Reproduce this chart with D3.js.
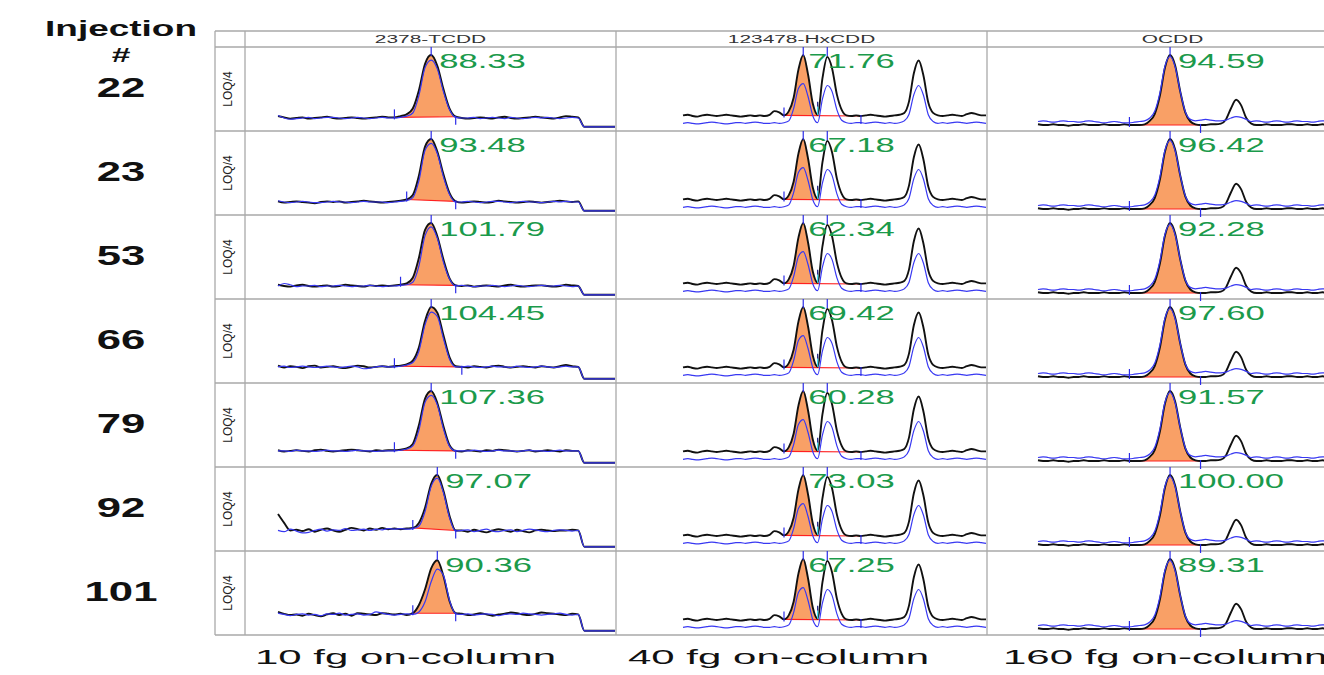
<!DOCTYPE html>
<html>
<head>
<meta charset="utf-8">
<script src="https://cdn.jsdelivr.net/npm/d3@7"></script>
<style>
  html, body { margin: 0; padding: 0; background: #fff; }
  svg { display: block; font-family: "Liberation Sans", Arial, sans-serif; }
</style>
</head>
<body>
<div id="chart"></div>
<script>
// ---- data ----
const injections = ['22', '23', '53', '66', '79', '92', '101'];
const compounds = ['2378-TCDD', '123478-HxCDD', 'OCDD'];
const amounts = ['10 fg on-column', '40 fg on-column', '160 fg on-column'];
const rowTag = 'LOQ/4';

const tcddValues = ['88.33', '93.48', '101.79', '104.45', '107.36', '97.07', '90.36'];
const hxcddValues = ['71.76', '67.18', '62.34', '69.42', '60.28', '73.03', '67.25'];
const ocddValues = ['94.59', '96.42', '92.28', '97.60', '91.57', '100.00', '89.31'];

// 2378-TCDD, one trace per injection (56 scans, % of peak)
const tcddBlack = [
  [3, 1, -1, 0, 1, -1, 0, 1, 2, 0, -1, 0, 1, 0, -1, 0, 1, 2, 1,
   1, 3, 6, 15, 44, 86, 100, 83, 46, 15, 2,
   0, -1, 0, 1, 0, -1, 1, 2, 0, -1, 0, 1, 2, 1, 0, -1, 1, 3, 2, 1,
   -14, -14, -14, -14, -14, -14],
  [1, -1, 0, 1, 0, -1, -2, 0, 1, 0, 1, -1, 0, 1, 2, 1, 0, -1, 0,
   1, 2, 4, 11, 42, 88, 100, 80, 44, 14, 1,
   -1, 0, 1, 0, -1, 0, 2, 1, 0, -1, 0, 1, 0, -1, 0, 1, 2, 1, 0, 1,
   -14, -14, -14, -14, -14, -14],
  [2, 0, -1, 1, 2, 0, -1, 0, 1, -1, 0, 2, 1, 0, -1, 1, 0, 1, 0,
   1, 2, 4, 13, 45, 89, 100, 79, 42, 12, 1,
   0, 1, -1, 0, 1, 0, -1, 1, 2, 0, -1, 0, 1, 1, 0, -1, 0, 2, 1, 0,
   -14, -14, -14, -14, -14, -14],
  [7, 4, 6, 5, 3, 6, 7, 4, 5, 6, 4, 3, 5, 7, 6, 4, 5, 6, 5,
   6, 7, 9, 15, 36, 78, 100, 91, 55, 20, 6,
   5, 4, 6, 5, 4, 6, 7, 5, 4, 5, 6, 5, 4, 6, 5, 4, 6, 8, 6, 5,
   -14, -14, -14, -14, -14, -14],
  [6, 4, 5, 6, 5, 4, 6, 7, 5, 4, 5, 6, 7, 6, 5, 4, 6, 5, 6,
   6, 7, 9, 16, 46, 88, 100, 81, 44, 14, 5,
   4, 6, 5, 4, 6, 5, 7, 6, 5, 4, 5, 6, 4, 5, 6, 5, 4, 6, 5, 5,
   -14, -14, -14, -14, -14, -14],
  [38, 24, 12, 13, 11, 14, 10, 13, 15, 12, 10, 13, 16, 14, 12, 15, 13, 16, 14,
   15, 14, 15, 16, 24, 48, 86, 100, 75, 35, 12,
   12, 10, 13, 11, 9, 12, 14, 12, 10, 13, 11, 9, 12, 13, 12, 11, 12, 12, 13, 12,
   -14, -14, -14, -14, -14, -14],
  [16, 13, 11, 12, 10, 13, 11, 9, 12, 14, 11, 13, 10, 14, 13, 12, 11, 14, 13,
   12, 13, 11, 14, 27, 52, 85, 98, 73, 33, 14,
   13, 11, 12, 14, 12, 10, 12, 13, 15, 14, 12, 11, 13, 15, 14, 13, 12, 11, 13, 12,
   -14, -14, -14, -14, -14, -14]
];
const tcddBlue = [
  [4, 0, -2, -1, 0, 1, -1, 0, 1, 1, 0, -1, 0, 1, 0, -1, 0, 1, 0,
   0, 1, 3, 8, 36, 80, 92, 78, 42, 13, 1,
   0, 0, 1, -1, 0, 1, 0, -1, 1, 0, -1, 0, 1, 0, 1, 0, -1, 0, 1, 0,
   -14, -14, -14, -14, -14, -14],
  [2, 0, -1, 0, 1, 0, -1, -1, 0, 1, 0, 0, -1, 0, 1, 0, 0, 0, -1,
   0, 1, 2, 7, 34, 82, 93, 77, 40, 12, 0,
   0, 1, 0, -1, 0, 1, 1, 0, -1, 0, 1, 0, 0, -1, 0, 1, 0, 1, 0, 0,
   -14, -14, -14, -14, -14, -14],
  [0, 4, 2, -1, 0, 0, 1, -1, 0, 0, 1, 0, -1, 0, 0, 1, 0, -1, 0,
   0, 1, 2, 6, 32, 80, 94, 76, 38, 11, 0,
   1, 0, -1, 0, 0, 1, 0, -1, 0, 1, 0, -1, 0, 1, 0, 0, 1, 0, -1, 0,
   -14, -14, -14, -14, -14, -14],
  [5, 6, 4, 5, 6, 5, 4, 5, 6, 5, 4, 5, 6, 5, 2, 3, 5, 6, 5,
   5, 6, 8, 12, 30, 72, 92, 85, 50, 17, 5,
   5, 6, 5, 4, 5, 6, 5, 5, 4, 6, 5, 4, 5, 6, 5, 4, 5, 6, 5, 5,
   -14, -14, -14, -14, -14, -14],
  [5, 5, 4, 6, 5, 5, 4, 5, 6, 5, 5, 4, 5, 6, 5, 5, 4, 5, 5,
   5, 6, 8, 13, 38, 82, 93, 78, 40, 12, 5,
   5, 5, 6, 5, 4, 5, 6, 5, 5, 4, 5, 6, 5, 5, 4, 5, 6, 5, 5, 5,
   -14, -14, -14, -14, -14, -14],
  [12, 10, 14, 11, 8, 9, 12, 14, 11, 13, 12, 15, 12, 13, 14, 12, 14, 13, 15,
   14, 15, 14, 15, 19, 42, 82, 95, 72, 32, 11,
   12, 13, 10, 12, 14, 11, 10, 12, 13, 10, 12, 14, 13, 11, 10, 12, 13, 12, 11, 12,
   -14, -14, -14, -14, -14, -14],
  [14, 12, 10, 12, 13, 11, 12, 10, 13, 12, 14, 11, 12, 13, 11, 12, 16, 14, 12,
   11, 12, 13, 12, 16, 32, 64, 84, 74, 34, 13,
   12, 13, 11, 12, 13, 12, 10, 12, 13, 12, 14, 13, 12, 11, 12, 13, 14, 12, 11, 12,
   -14, -14, -14, -14, -14, -14]
];
const tcddStart = [19, 21, 20, 19, 19, 22, 22];
const tcddEnd = [29, 29, 29, 30, 29, 29, 29];

// 123478-HxCDD (64 scans), same shape in every injection
const hxcddBlack = [
  1, 2, 0, -1, 1, 2, 1, 0, 1, 2, 1, 0, -1, 0, 1, 0, 1, 0,
  2, 8, 6, 1, 8, 30, 76, 100, 68, 20, 2, 62, 97, 78, 35, 10, 1,
  0, 1, 0, 1, 2, 1, 0, -1, 0, 1, 2, 5,
  24, 70, 91, 66, 22, 5,
  1, 0, 1, 2, 1, 0, 3, 5, 3, 1, 1
];
const hxcddBlue = [
  -12, -11, -12, -13, -12, -11, -10, -11, -12, -13, -12, -11, -11, -12, -11, -10, -11, -12,
  -12, -11, -12, -11, -8, 12, 45, 53, 32, 0, -11, 28, 50, 40, 10, -7, -11,
  -12, -11, -11, -12, -11, -10, -11, -12, -11, -12, -11, -8,
  3, 35, 50, 34, 2, -9,
  -12, -11, -12, -11, -10, -11, -12, -11, -10, -11, -12
];
const hxcddWindow = [21, 28, 37]; // start, valley, end scan

// OCDD (64 scans)
const ocddBlack = [
  1, 0, 0, 1, 0, 0, -1, 0, 0, 1, 0, 0, 0, 1, 0, 0, 0, 1,
  0, 0, 0, 1, 6, 16, 42, 82, 100, 85, 48, 18, 5, 1, 0,
  0, 1, 1, 2,
  8, 24, 36, 28, 10, 2,
  0, 0, 1, 0, 0, 0, 1, 1, 0, 0, 1, 0, 0, 1, 0, 0, 0, 1, 0, 0, 0
];
const ocddBlue = [
  5, 6, 5, 4, 5, 6, 5, 5, 4, 5, 6, 5, 4, 3, 4, 5, 4, 3,
  3, 4, 5, 6, 10, 20, 46, 84, 98, 83, 48, 19, 8, 6, 7,
  8, 7, 6, 6,
  7, 10, 12, 11, 8, 5,
  6, 5, 4, 5, 6, 5, 4, 5, 6, 5, 5, 4, 5, 6, 5, 4, 5, 6, 5, 5, 4
];
const ocddWindow = [18, 32];

// ---- table the drawing loops over ----
const columns = [
  { name: compounds[0], values: tcddValues, black: tcddBlack, blue: tcddBlue,
    windows: injections.map((d, i) => [tcddStart[i], tcddEnd[i]]) },
  { name: compounds[1], values: hxcddValues, black: injections.map(() => hxcddBlack),
    blue: injections.map(() => hxcddBlue), windows: injections.map(() => hxcddWindow) },
  { name: compounds[2], values: ocddValues, black: injections.map(() => ocddBlack),
    blue: injections.map(() => ocddBlue), windows: injections.map(() => ocddWindow) }
];

// ---- layout ----
var width = 1324;
var height = 675;
const gridLeft = 215, gridTop = 31, headBottom = 47, gridBottom = 635;
const traceBox = [
  { x0: 33, x1: 370, base: 71, top: 8, labelDx: 8, footDx: 10 },
  { x0: 67, x1: 370, base: 69, top: 8, labelDx: 5, footDx: 12 },
  { x0: 51, x1: 371, base: 78, top: 8, labelDx: 8, footDx: 16 }
];
const gridColor = '#a9a9a9';
const tickBlue = '#2b2be8';

var svg = d3.select('#chart')
  .append('svg')
  .attr('width', width)
  .attr('height', height);

const colX = d3.scaleBand().domain(compounds).range([245, 1358]);
const rowY = d3.scaleBand().domain(injections).range([headBottom, gridBottom]);

function stretched(parent, txt, x, y, size, sx) {
  return parent.append('text')
    .attr('transform', `translate(${x},${y}) scale(${sx},1)`)
    .attr('font-size', size)
    .text(txt);
}

// grid
const grid = svg.append('g').attr('stroke', gridColor).attr('stroke-width', 1.3);
grid.append('line').attr('x1', gridLeft).attr('x2', width).attr('y1', gridTop).attr('y2', gridTop);
grid.append('line').attr('x1', gridLeft).attr('x2', width).attr('y1', headBottom).attr('y2', headBottom);
grid.selectAll('.rowline')
  .data(injections)
  .join('line')
    .attr('x1', gridLeft).attr('x2', width)
    .attr('y1', d => rowY(d) + rowY.bandwidth())
    .attr('y2', d => rowY(d) + rowY.bandwidth());
grid.append('line').attr('x1', gridLeft).attr('x2', gridLeft).attr('y1', gridTop).attr('y2', gridBottom);
grid.selectAll('.colline')
  .data(compounds)
  .join('line')
    .attr('x1', d => colX(d)).attr('x2', d => colX(d))
    .attr('y1', gridTop).attr('y2', gridBottom);

// cells
columns.forEach((col, ci) => {
  const box = traceBox[ci];
  const left = colX(col.name);
  injections.forEach((inj, ri) => {
    const top = rowY(inj);
    const black = col.black[ri];
    const blue = col.blue[ri];
    const win = col.windows[ri];
    const g = svg.append('g');

    const x = d3.scaleLinear().domain([0, black.length - 1]).range([left + box.x0, left + box.x1]);
    const y = d3.scaleLinear().domain([0, 100]).range([top + box.base, top + box.top]);
    const line = d3.line().x(d => x(d.i)).y(d => y(d.v)).curve(d3.curveMonotoneX);

    const s = win[0], e = win[win.length - 1];
    const baseAt = i => black[s] + (black[e] - black[s]) * (i - s) / (e - s);

    // integrated area of the first peak
    const fillPts = d3.range(s, win[1] + 1).map(i => ({ i, v: black[i], b: baseAt(i) }));
    g.append('path')
      .datum(fillPts)
      .attr('fill', '#f9a066')
      .attr('d', d3.area().x(d => x(d.i)).y0(d => y(d.b)).y1(d => y(d.v)).curve(d3.curveMonotoneX));

    g.append('line')
      .attr('x1', x(s)).attr('y1', y(black[s]))
      .attr('x2', x(e)).attr('y2', y(black[e]))
      .attr('stroke', '#ff2020').attr('stroke-width', 1.1);

    g.append('path')
      .datum(black.map((v, i) => ({ i, v })))
      .attr('fill', 'none').attr('stroke', '#111').attr('stroke-width', 1.9)
      .attr('stroke-linejoin', 'round')
      .attr('d', line);
    g.append('path')
      .datum(blue.map((v, i) => ({ i, v })))
      .attr('fill', 'none').attr('stroke', '#3838f2').attr('stroke-width', 1.2)
      .attr('d', line);

    // peak apex markers
    const apexes = [];
    for (let k = 0; k < win.length - 1; k++) {
      const seg = d3.range(win[k], win[k + 1] + 1);
      apexes.push(seg[d3.maxIndex(seg, i => black[i])]);
    }
    const ticks = g.append('g').attr('stroke', tickBlue).attr('stroke-width', 1.2);
    apexes.forEach(a => {
      ticks.append('line').attr('x1', x(a)).attr('x2', x(a)).attr('y1', top).attr('y2', top + 9);
    });
    ticks.append('line').attr('x1', x(s)).attr('x2', x(s))
      .attr('y1', y(black[s]) - 8).attr('y2', y(black[s]) + 2);
    ticks.append('line').attr('x1', x(e)).attr('x2', x(e))
      .attr('y1', y(black[e]) - 1).attr('y2', y(black[e]) + 8);
    win.slice(1, -1).forEach(v => {
      const yb = y(baseAt(v));
      ticks.append('line').attr('x1', x(v)).attr('x2', x(v)).attr('y1', yb - 14).attr('y2', yb - 9)
        .attr('stroke', '#1a1a80');
      ticks.append('line').attr('x1', x(v)).attr('x2', x(v)).attr('y1', yb - 9).attr('y2', yb - 1)
        .attr('stroke', '#38e0f0');
    });

    stretched(g, col.values[ri], x(apexes[0]) + box.labelDx, top + 21, 21, 1.65)
      .attr('fill', '#1b9a4b');
  });
});

// LOQ/4 tags
svg.append('g')
  .selectAll('text')
  .data(injections)
  .join('text')
    .attr('transform', d => `translate(232,${rowY(d) + rowY.bandwidth() / 2}) rotate(-90)`)
    .attr('text-anchor', 'middle')
    .attr('font-size', 12)
    .attr('fill', '#222')
    .text(rowTag);

// headers
compounds.forEach(c => {
  stretched(svg, c, colX(c) + colX.bandwidth() / 2, 43, 11, 1.9)
    .attr('text-anchor', 'middle').attr('fill', '#333');
});

// left labels
stretched(svg, 'Injection', 121, 36, 22, 1.68)
  .attr('text-anchor', 'middle').attr('font-weight', 'bold').attr('fill', '#111');
stretched(svg, '#', 121, 62, 21, 1.6)
  .attr('text-anchor', 'middle').attr('font-weight', 'bold').attr('fill', '#111');
injections.forEach(d => {
  stretched(svg, d, 121, rowY(d) + 50, 28, 1.56)
    .attr('text-anchor', 'middle').attr('font-weight', 'bold').attr('fill', '#111');
});

// bottom labels
compounds.forEach((c, i) => {
  stretched(svg, amounts[i], colX(c) + traceBox[i].footDx, 664, 21, 2.0)
    .attr('fill', '#111');
});
</script>
</body>
</html>
